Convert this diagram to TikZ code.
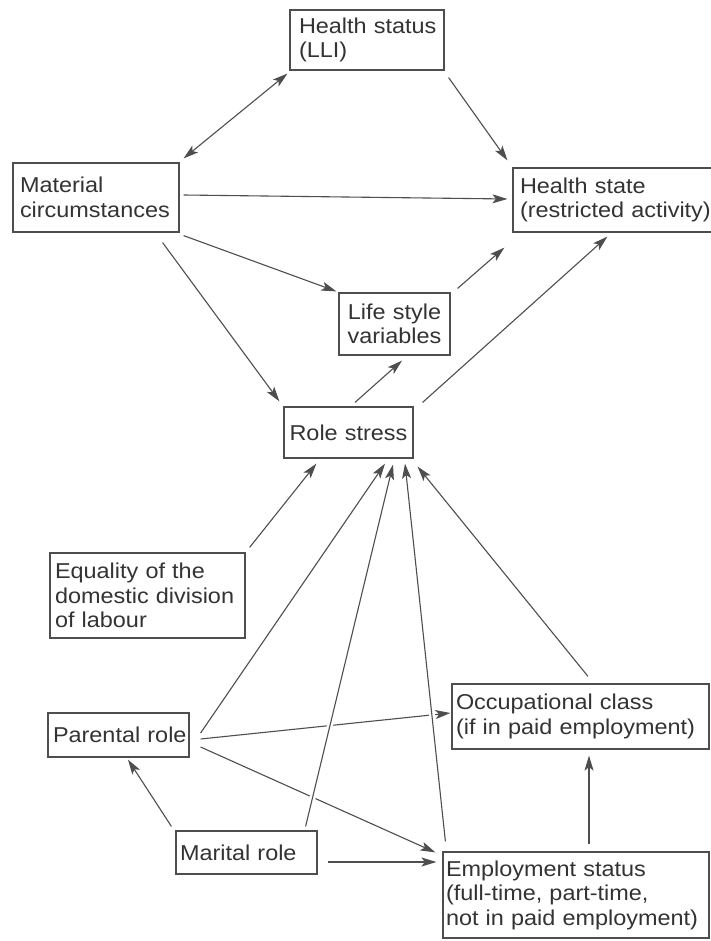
\documentclass[tikz,border=0pt]{standalone}
\usepackage{fontspec}
\setmainfont[FakeStretch=1.09]{Liberation Sans}
\usetikzlibrary{arrows.meta,calc}
\definecolor{ink}{HTML}{333333}
\definecolor{ln}{HTML}{4E4E4E}
\begin{document}
\begin{tikzpicture}[x=1pt,y=-1pt,
  box/.style={draw=ln,line width=1.2pt,inner xsep=0pt,inner ysep=0pt,align=left,text=ink,
    font=\fontsize{21.5}{24.5}\selectfont},
  cbox/.style={box,align=center},
  tip/.tip={Stealth[length=15pt,width=9pt,inset=3.5pt]},
  arr/.style={draw=ln,line width=1.1pt,-tip},
  darr/.style={draw=ln,line width=1.1pt,tip-tip},
  halo/.style={draw=white,line width=6pt}]
\useasboundingbox (0,0) rectangle (711,941);
\fill[white] (0,0) rectangle (711,941);

\node[box,minimum width=154pt,minimum height=60pt,text width=136pt] (hs) at (367,40) {\mbox{Health status}\\(LLI)};
\node[box,minimum width=166pt,minimum height=69pt,text width=152pt] (ms) at (96,197.5) {Material\\\mbox{circumstances}};
\node[box,minimum width=217pt,minimum height=64pt,text width=203pt] (hst) at (621.5,200) {\mbox{Health state}\\\mbox{(restricted activity)}};
\node[cbox,minimum width=111pt,minimum height=62pt,text width=104pt] (ls) at (394.5,324) {\mbox{Life style}\\variables};
\node[cbox,minimum width=129pt,minimum height=51pt,text width=122pt] (rs) at (348.5,432.5) {\mbox{Role stress}};
\node[box,minimum width=195pt,minimum height=85pt,text width=185pt] (eq) at (147.5,595.5) {\mbox{Equality of the}\\\mbox{domestic division}\\\mbox{of labour}};
\node[box,minimum width=141pt,minimum height=44pt,text width=131pt] (pr) at (118.5,735) {\mbox{Parental role}};
\node[box,minimum width=257pt,minimum height=65pt,text width=249pt] (oc) at (580.5,716.5) {\mbox{Occupational class}\\\mbox{(if in paid employment)}};
\node[box,minimum width=141pt,minimum height=43pt,text width=133pt] (mr) at (246.5,852.5) {\mbox{Marital role}};
\node[box,minimum width=266pt,minimum height=86pt,text width=260pt] (es) at (576,895) {\mbox{Employment status}\\\mbox{(full-time, part-time,}\\\mbox{not in paid employment)}};

% top part
\draw[darr] ($(ms.north east)+(4,-4)$) -- ($(hs.south west)+(-2,3)$);
\draw[arr] ($(hs.south east)+(4,7)$) -- ($(hst.north west)+(-5,-7)$);
\draw[arr] ($(ms.east)+(4,-2.5)$) -- ($(hst.west)+(-5,-1)$);
\draw[arr] ($(ms.south east)+(4,3)$) -- ($(ls.north west)+(-2,-1)$);
\draw[arr] ($(ms.south east)+(-17,10)$) -- ($(rs.north west)+(-4,-5)$);
\draw[arr] ($(rs.north)+(6.5,-4)$) -- ($(ls.south)+(7.5,5)$);
\draw[arr] ($(ls.north east)+(7,-4)$) -- ($(hst.south west)+(-8,15)$);
\draw[arr] ($(rs.north east)+(9,-4)$) -- ($(hst.south west)+(95,4)$);

% bottom part
\draw[arr] ($(eq.north east)+(4,-5)$) -- ($(rs.south west)+(33,5)$);
\draw[arr] ($(pr.east)+(11,-2)$) -- ($(rs.south)+(36.5,5)$);
\draw[arr] ($(pr.east)+(11,4)$) -- ($(oc.west)+(-1,-3.5)$);
\draw[arr] ($(pr.east)+(11,12)$) -- ($(es.north west)+(-7,1)$);
\draw[arr] ($(mr.north west)+(-4,-4)$) -- ($(pr.south)+(9.5,2)$);
\draw[arr] ($(mr.east)+(10,9.5)$) -- ($(es.west)+(-6,-33)$);
\draw[arr] ($(es.north)+(13,-7)$) -- ($(oc.south)+(8.5,6)$);
\draw[arr] ($(oc.north)+(7.5,-7)$) -- ($(rs.south east)+(4,8)$);
% lines passing over others leave a small gap in the lines below
\draw[halo,shorten <=80pt,shorten >=211pt] ($(es.north west)+(3,-10)$) -- ($(rs.south)+(56.5,5)$);
\draw[halo,shorten <=15pt,shorten >=253pt] ($(mr.north east)+(-12,-4)$) -- ($(rs.south)+(44.5,6)$);
\draw[arr] ($(es.north west)+(3,-10)$) -- ($(rs.south)+(56.5,5)$);
\draw[arr] ($(mr.north east)+(-12,-4)$) -- ($(rs.south)+(44.5,6)$);
\end{tikzpicture}
\end{document}
